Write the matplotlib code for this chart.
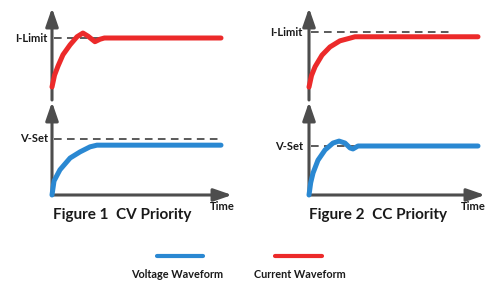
import matplotlib
matplotlib.use("Agg")
import matplotlib.pyplot as plt
from matplotlib.lines import Line2D

plt.rcParams['font.family'] = ['Lato', 'DejaVu Sans']
plt.rcParams['font.weight'] = 'bold'

### Data (time in arbitrary units, levels relative to the set value = 1.0)
# Figure 1: CV priority
cv_current_t = [0.0, 0.15, 0.36, 0.65, 1.07, 1.48, 1.83, 2.13, 2.54, 2.84, 3.1, 10.0]
cv_current_y = [0.21, 0.40, 0.55, 0.73, 0.89, 1.02, 1.08, 1.03, 0.94, 0.98, 1.0, 1.0]
cv_voltage_t = [0.0, 0.12, 0.47, 1.07, 1.66, 2.25, 2.66, 10.0]
cv_voltage_y = [0.0, 0.25, 0.45, 0.66, 0.77, 0.86, 0.89, 0.89]
# Figure 2: CC priority
cc_current_t = [0.0, 0.15, 0.36, 0.77, 1.24, 1.83, 2.43, 2.72, 10.0]
cc_current_y = [0.19, 0.36, 0.49, 0.66, 0.78, 0.87, 0.91, 0.93, 0.93]
cc_voltage_t = [0.0, 0.1, 0.24, 0.53, 0.95, 1.42, 1.78, 2.13, 2.43, 2.6, 2.9, 10.0]
cc_voltage_y = [0.0, 0.25, 0.45, 0.71, 0.92, 1.06, 1.10, 1.06, 0.96, 0.94, 1.0, 1.0]

limit_labels = ["I-Limit", "V-Set"]
fig_titles = ["Figure 1  CV Priority", "Figure 2  CC Priority"]
series_names = ["Voltage Waveform", "Current Waveform"]

### Styles
W, H = 501, 283
red = '#EC2A2A'
blue = '#2A88D2'
axis_col = '#4D4D4D'
dash_col = '#2E2E2E'
txt_col = '#1A1A1A'
px_per_t = 16.9

fig = plt.figure(figsize=(W / 100, H / 100), dpi=100)


def panel(x0, y0, y_tip, px_per_unit, x_tip, dash_end, t, y, color, label, xaxis, gap):
    # x0, y0: pixel origin; y_tip: pixel row of arrow tip
    ymax = (y0 - y_tip) / px_per_unit
    xmax = (x_tip - x0) / px_per_t
    ax = fig.add_axes([x0 / W, 1 - y0 / H, xmax * px_per_t / W, (y0 - y_tip) / H])
    ax.set_xlim(0, xmax)
    ax.set_ylim(0, ymax)
    ax.axis('off')
    arr = dict(arrowstyle='-|>,head_length=1.1,head_width=0.38', color=axis_col,
               lw=2.2, shrinkA=0, shrinkB=0, mutation_scale=10)
    ax.annotate('', xy=(0, ymax), xytext=(0, 0), arrowprops=arr, annotation_clip=False)
    if xaxis:
        ax.annotate('', xy=(xmax, 0), xytext=(0, 0), arrowprops=arr, annotation_clip=False)
    ax.plot([0.1, dash_end], [1, 1], color=dash_col, lw=1.1, dashes=(5, 3.5), zorder=2)
    ax.plot(t, y, color=color, lw=3.6, solid_capstyle='round', solid_joinstyle='round',
            clip_on=False, zorder=3)
    ax.text(-gap, 1.0, label, ha='right', va='center', fontsize=8, fontweight='bold',
            color=txt_col)
    return ax


panel(52, 100, 8, 62, 232, 8.6, cv_current_t, cv_current_y, red, limit_labels[0], False, 0.24)
panel(52, 195, 102, 56, 232, 9.9, cv_voltage_t, cv_voltage_y, blue, limit_labels[1], True, 0.24)
panel(309, 100, 8, 68, 485, 8.5, cc_current_t, cc_current_y, red, limit_labels[0], False, 0.36)
panel(309, 195, 102, 49, 485, 8.5, cc_voltage_t, cc_voltage_y, blue, limit_labels[1], True, 0.36)

for cx, title in zip([122, 378], fig_titles):
    fig.text(cx / W, 1 - 215 / H, title, ha='center', va='center', fontsize=11,
             fontweight='bold', color=txt_col)
for cx in [222, 473]:
    fig.text(cx / W, 1 - 207 / H, "Time", ha='center', va='center', fontsize=8,
             fontweight='bold', color=txt_col)

# legend, handle above its label
for (x1, x2, lx), c, name in zip([(157, 203, 177), (275, 322, 300)], [blue, red], series_names):
    fig.add_artist(Line2D([x1 / W, x2 / W], [1 - 256 / H, 1 - 256 / H], color=c, lw=3,
                          solid_capstyle='round', transform=fig.transFigure))
    fig.text(lx / W, 1 - 275 / H, name, ha='center', va='center', fontsize=7.8,
             fontweight='bold', color=txt_col)

fig.savefig('out.png', dpi=100, facecolor='white')
